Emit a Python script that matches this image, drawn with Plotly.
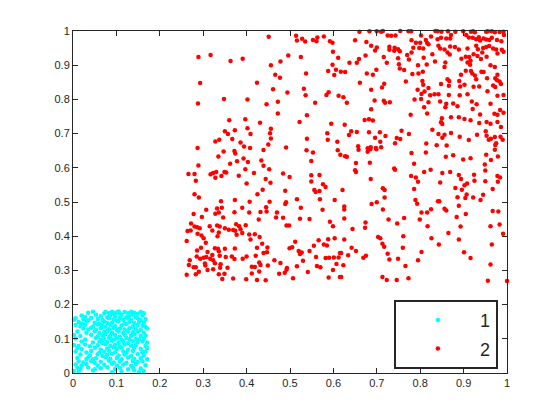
import plotly.graph_objects as go

# ---- data ----
cyan_points = [
 (0.035,0.176),(0.046,0.179),(0.072,0.174),(0.075,0.178),(0.083,0.175),(0.090,0.179),(0.094,0.173),(0.100,0.177),(0.105,0.180),(0.108,0.174),(0.119,0.178),(0.127,0.175),(0.134,0.179),(0.141,0.176),(0.149,0.173),(0.156,0.178),(0.163,0.175),
 (0.020,0.168),(0.028,0.164),(0.053,0.170),(0.064,0.166),(0.079,0.163),(0.086,0.169),(0.097,0.165),(0.112,0.170),(0.123,0.164),(0.130,0.167),(0.138,0.171),(0.145,0.163),(0.160,0.168),
 (0.002,0.156),(0.006,0.160),(0.024,0.157),(0.035,0.154),(0.042,0.161),(0.057,0.158),(0.068,0.155),(0.083,0.160),(0.094,0.157),(0.101,0.153),(0.108,0.161),(0.116,0.156),(0.127,0.159),(0.134,0.154),(0.149,0.160),(0.156,0.155),(0.167,0.158),
 (0.013,0.149),(0.020,0.145),(0.031,0.151),(0.050,0.147),(0.061,0.144),(0.072,0.150),(0.079,0.146),(0.090,0.148),(0.105,0.152),(0.119,0.145),(0.130,0.149),(0.141,0.146),(0.152,0.150),(0.163,0.147),
 (0.006,0.140),(0.017,0.137),(0.028,0.141),(0.046,0.136),(0.057,0.142),(0.068,0.138),(0.075,0.135),(0.086,0.141),(0.097,0.137),(0.112,0.139),(0.123,0.143),(0.138,0.136),(0.149,0.140),(0.160,0.138),(0.167,0.135),
 (0.024,0.130),(0.035,0.127),(0.042,0.132),(0.053,0.126),(0.064,0.131),(0.083,0.128),(0.094,0.132),(0.101,0.126),(0.108,0.130),(0.119,0.127),(0.130,0.131),(0.145,0.129),(0.156,0.126),(0.171,0.130),
 (0.010,0.121),(0.031,0.118),(0.050,0.122),(0.061,0.117),(0.072,0.120),(0.079,0.123),(0.090,0.118),(0.105,0.121),(0.116,0.117),(0.127,0.122),(0.138,0.119),(0.149,0.121),(0.163,0.118),
 (0.002,0.111),(0.017,0.108),(0.042,0.112),(0.057,0.107),(0.068,0.110),(0.075,0.113),(0.086,0.108),(0.097,0.111),(0.108,0.106),(0.119,0.112),(0.134,0.109),(0.141,0.113),(0.156,0.108),(0.167,0.110),
 (0.006,0.101),(0.028,0.098),(0.053,0.102),(0.064,0.097),(0.072,0.100),(0.083,0.103),(0.094,0.098),(0.101,0.101),(0.112,0.097),(0.123,0.102),(0.130,0.099),(0.145,0.101),(0.152,0.097),(0.163,0.100),
 (0.020,0.092),(0.046,0.089),(0.061,0.093),(0.068,0.088),(0.079,0.091),(0.090,0.094),(0.105,0.089),(0.116,0.092),(0.127,0.088),(0.138,0.093),(0.149,0.090),(0.160,0.092),(0.171,0.089),
 (0.002,0.082),(0.013,0.079),(0.028,0.083),(0.039,0.078),(0.057,0.081),(0.075,0.084),(0.086,0.079),(0.097,0.082),(0.108,0.078),(0.119,0.083),(0.134,0.080),(0.145,0.082),(0.167,0.079),
 (0.010,0.073),(0.020,0.070),(0.050,0.074),(0.064,0.069),(0.079,0.072),(0.094,0.075),(0.101,0.070),(0.112,0.073),(0.127,0.069),(0.141,0.074),(0.156,0.071),(0.171,0.073),
 (0.006,0.063),(0.031,0.060),(0.042,0.064),(0.061,0.059),(0.072,0.062),(0.083,0.065),(0.097,0.060),(0.116,0.063),(0.123,0.059),(0.138,0.064),(0.160,0.061),(0.167,0.063),
 (0.017,0.054),(0.039,0.051),(0.057,0.055),(0.068,0.050),(0.079,0.053),(0.090,0.056),(0.105,0.051),(0.119,0.054),(0.134,0.050),(0.149,0.055),(0.163,0.052),
 (0.010,0.044),(0.031,0.041),(0.035,0.045),(0.046,0.040),(0.053,0.043),(0.075,0.046),(0.086,0.041),(0.101,0.044),(0.112,0.040),(0.127,0.045),(0.141,0.042),(0.156,0.044),(0.171,0.041),
 (0.013,0.034),(0.024,0.031),(0.042,0.035),(0.050,0.030),(0.064,0.033),(0.083,0.036),(0.094,0.031),(0.108,0.034),(0.123,0.030),(0.138,0.035),(0.149,0.032),(0.160,0.034),
 (0.006,0.025),(0.020,0.022),(0.031,0.026),(0.057,0.021),(0.072,0.024),(0.090,0.027),(0.101,0.022),(0.116,0.025),(0.134,0.021),(0.145,0.026),(0.167,0.023),
 (0.010,0.015),(0.017,0.012),(0.035,0.016),(0.050,0.011),(0.064,0.014),(0.079,0.017),(0.097,0.012),(0.108,0.015),(0.127,0.011),(0.138,0.016),(0.156,0.013),
 (0.002,0.006),(0.013,0.003),(0.046,0.007),(0.090,0.002),(0.112,0.005),(0.141,0.008),(0.152,0.003),(0.163,0.006),
]

red_points = [
 (0.451,0.983),(0.514,0.986),(0.516,0.972),(0.528,0.977),(0.535,0.969),(0.553,0.974),(0.561,0.970),(0.563,0.981),(0.578,0.984),(0.592,0.970),(0.598,0.966),
 (0.289,0.924),(0.317,0.930),(0.363,0.912),(0.391,0.919),(0.496,0.928),(0.525,0.924),(0.599,0.939),(0.611,0.922),(0.456,0.900),(0.478,0.911),(0.598,0.901),
 (0.588,0.883),(0.606,0.887),(0.617,0.881),(0.537,0.876),(0.466,0.872),(0.477,0.863),(0.602,0.871),(0.293,0.848),(0.424,0.849),(0.461,0.830),(0.494,0.820),
 (0.532,0.831),(0.536,0.812),(0.584,0.813),(0.589,0.821),(0.612,0.811),(0.288,0.788),(0.348,0.801),(0.402,0.800),(0.446,0.786),(0.472,0.793),(0.558,0.790),
 (0.472,0.759),(0.539,0.754),(0.360,0.739),(0.397,0.742),(0.431,0.732),(0.522,0.734),(0.595,0.729),(0.350,0.707),(0.357,0.699),(0.373,0.710),(0.402,0.716),
 (0.409,0.699),(0.456,0.714),(0.454,0.701),(0.456,0.686),(0.586,0.701),(0.328,0.677),(0.337,0.682),(0.367,0.684),(0.386,0.674),(0.450,0.668),(0.539,0.685),
 (0.587,0.682),(0.609,0.676),(0.287,0.658),(0.394,0.662),(0.408,0.658),(0.491,0.659),
 (0.660,0.998),(0.683,0.999),(0.700,0.999),(0.710,0.998),(0.714,1.000),(0.754,1.000),(0.773,0.999),(0.779,0.999),(0.835,1.000),(0.840,0.999),(0.849,0.998),
 (0.864,0.999),(0.881,0.998),(0.899,0.999),(0.917,0.998),(0.922,0.999),(0.926,0.996),(0.952,0.998),(0.956,0.999),(0.965,0.999),(0.972,0.996),(0.983,0.997),(0.992,0.998),
 (0.725,0.987),(0.733,0.986),(0.743,0.987),(0.802,0.987),(0.813,0.974),(0.825,0.984),(0.840,0.976),(0.848,0.980),(0.860,0.978),(0.869,0.978),(0.871,0.988),
 (0.906,0.988),(0.912,0.981),(0.921,0.980),(0.929,0.976),(0.935,0.982),(0.938,0.972),(0.946,0.978),(0.952,0.975),(0.959,0.974),(0.965,0.980),(0.977,0.974),
 (0.987,0.970),(0.993,0.988),(0.650,0.973),(0.676,0.968),(0.780,0.973),(0.790,0.966),(0.800,0.966),(0.816,0.965),(0.687,0.957),(0.700,0.952),(0.729,0.954),
 (0.741,0.951),(0.749,0.947),(0.729,0.945),(0.740,0.942),(0.753,0.941),(0.784,0.951),(0.798,0.950),(0.807,0.949),(0.819,0.961),(0.842,0.957),(0.846,0.949),
 (0.856,0.946),(0.869,0.955),(0.880,0.953),(0.889,0.946),(0.909,0.949),(0.929,0.957),(0.933,0.947),(0.945,0.950),(0.952,0.953),(0.959,0.956),(0.968,0.949),
 (0.975,0.946),(0.988,0.945),(0.992,0.939),(0.696,0.943),(0.770,0.930),(0.780,0.937),(0.828,0.932),(0.863,0.937),(0.868,0.931),(0.905,0.925),(0.913,0.924),
 (0.923,0.932),(0.932,0.927),(0.943,0.937),(0.978,0.934),(0.674,0.928),(0.659,0.918),(0.654,0.907),(0.637,0.907),(0.716,0.924),(0.749,0.920),(0.774,0.917),
 (0.808,0.922),(0.834,0.911),(0.858,0.908),(0.895,0.919),(0.909,0.908),(0.916,0.913),(0.940,0.918),(0.953,0.925),(0.723,0.907),(0.751,0.903),(0.753,0.890),
 (0.763,0.886),(0.795,0.900),(0.815,0.902),(0.856,0.895),(0.699,0.887),(0.677,0.876),(0.691,0.872),(0.627,0.880),(0.806,0.881),(0.796,0.876),(0.782,0.874),
 (0.905,0.884),(0.917,0.883),(0.920,0.876),(0.926,0.870),(0.941,0.881),(0.946,0.880),(0.962,0.900),(0.972,0.895),(0.915,0.901),(0.894,0.872),(0.863,0.859),
 (0.867,0.854),(0.866,0.840),(0.890,0.854),(0.892,0.838),(0.902,0.843),(0.805,0.854),(0.807,0.843),(0.819,0.833),(0.848,0.845),(0.929,0.859),(0.954,0.862),
 (0.973,0.862),(0.978,0.872),(0.977,0.856),(0.983,0.852),(0.968,0.841),(0.973,0.836),(0.986,0.845),(0.923,0.837),(0.936,0.838),(0.955,0.824),(0.717,0.846),
 (0.712,0.835),(0.661,0.849),(0.687,0.828),(0.767,0.852),(0.794,0.828),(0.810,0.823),(0.803,0.816),(0.823,0.812),(0.833,0.815),(0.842,0.815),(0.866,0.813),
 (0.891,0.812),(0.909,0.815),(0.978,0.811),(0.992,0.813),(0.623,0.806),(0.631,0.790),(0.695,0.797),(0.716,0.796),(0.719,0.790),(0.730,0.792),(0.787,0.800),
 (0.802,0.801),(0.819,0.792),(0.846,0.794),(0.860,0.787),(0.858,0.777),(0.876,0.788),(0.886,0.780),(0.919,0.794),(0.930,0.786),(0.962,0.787),(0.809,0.777),
 (0.921,0.772),(0.687,0.771),(0.816,0.759),(0.778,0.755),(0.938,0.756),(0.971,0.758),(0.978,0.755),(0.992,0.761),(0.984,0.769),(0.850,0.745),(0.848,0.733),
 (0.851,0.728),(0.871,0.748),(0.889,0.748),(0.902,0.743),(0.672,0.740),(0.682,0.742),(0.691,0.738),(0.936,0.731),(0.953,0.734),(0.962,0.729),(0.978,0.734),
 (0.986,0.719),(0.916,0.739),(0.626,0.726),(0.641,0.707),(0.654,0.705),(0.682,0.704),(0.696,0.688),(0.707,0.704),(0.708,0.676),(0.698,0.658),(0.720,0.693),
 (0.746,0.687),(0.757,0.708),(0.774,0.699),(0.828,0.711),(0.842,0.699),(0.851,0.688),(0.856,0.697),(0.871,0.702),(0.891,0.691),(0.912,0.681),(0.931,0.697),
 (0.951,0.707),(0.953,0.694),(0.958,0.682),(0.963,0.685),(0.972,0.690),(0.973,0.667),(0.975,0.672),(0.985,0.691),(0.990,0.682),(0.636,0.696),(0.679,0.657),
 (0.657,0.663),(0.686,0.660),(0.710,0.660),(0.838,0.666),(0.861,0.665),(0.814,0.671),(0.754,0.684),(0.742,0.672),
 (0.347,0.648),(0.372,0.649),(0.374,0.642),(0.439,0.652),(0.538,0.651),(0.553,0.645),(0.610,0.651),(0.616,0.638),(0.335,0.633),(0.289,0.607),(0.362,0.612),
 (0.378,0.619),(0.393,0.627),(0.403,0.617),(0.434,0.621),(0.439,0.606),(0.452,0.596),(0.549,0.620),(0.266,0.582),(0.280,0.582),(0.283,0.562),(0.317,0.581),
 (0.323,0.585),(0.330,0.588),(0.328,0.571),(0.342,0.576),(0.349,0.588),(0.353,0.586),(0.382,0.577),(0.397,0.596),(0.417,0.585),(0.444,0.567),(0.455,0.556),
 (0.484,0.583),(0.499,0.573),(0.549,0.578),(0.568,0.579),(0.549,0.560),(0.400,0.554),(0.576,0.552),(0.582,0.544),(0.556,0.535),(0.559,0.529),(0.568,0.532),
 (0.280,0.523),(0.290,0.513),(0.437,0.536),(0.425,0.523),(0.489,0.533),(0.341,0.502),(0.373,0.506),(0.407,0.501),(0.453,0.501),(0.491,0.499),(0.489,0.494),
 (0.516,0.508),(0.569,0.508),(0.603,0.506),(0.307,0.477),(0.332,0.481),(0.343,0.483),(0.390,0.483),(0.445,0.485),(0.446,0.472),(0.432,0.471),(0.470,0.469),
 (0.525,0.483),(0.575,0.477),(0.278,0.465),(0.297,0.456),(0.328,0.466),(0.336,0.469),(0.346,0.455),(0.372,0.470),(0.406,0.469),(0.468,0.455),(0.484,0.454),
 (0.523,0.451),(0.545,0.450),(0.428,0.449),(0.272,0.437),(0.264,0.415),(0.280,0.428),(0.286,0.426),(0.292,0.423),(0.271,0.417),(0.315,0.429),(0.321,0.417),
 (0.332,0.431),(0.338,0.428),(0.350,0.423),(0.359,0.419),(0.369,0.418),(0.376,0.435),(0.383,0.429),(0.374,0.416),(0.386,0.420),(0.390,0.409),(0.398,0.432),
 (0.287,0.407),(0.296,0.402),(0.301,0.394),(0.336,0.411),(0.333,0.400),(0.377,0.404),(0.406,0.405),(0.419,0.406),(0.430,0.398),(0.409,0.390),(0.492,0.431),
 (0.498,0.431),(0.592,0.442),(0.599,0.429),(0.262,0.386),(0.306,0.381),(0.295,0.366),(0.286,0.358),(0.327,0.365),(0.334,0.363),(0.310,0.354),(0.321,0.345),
 (0.336,0.356),(0.350,0.363),(0.373,0.364),(0.424,0.366),(0.436,0.378),(0.448,0.367),(0.499,0.365),(0.505,0.368),(0.512,0.384),(0.520,0.357),(0.523,0.348),
 (0.527,0.352),(0.530,0.328),(0.545,0.357),(0.555,0.372),(0.566,0.388),(0.578,0.376),(0.585,0.373),(0.588,0.391),(0.603,0.394),(0.615,0.351),(0.612,0.338),
 (0.285,0.341),(0.293,0.334),(0.301,0.337),(0.307,0.339),(0.316,0.334),(0.323,0.330),(0.338,0.343),(0.352,0.339),(0.366,0.341),(0.391,0.334),(0.400,0.341),
 (0.439,0.351),(0.447,0.353),(0.421,0.343),(0.269,0.330),(0.304,0.320),(0.305,0.314),(0.327,0.321),(0.340,0.318),(0.372,0.333),(0.267,0.316),(0.278,0.309),
 (0.283,0.309),(0.290,0.296),(0.310,0.301),(0.323,0.303),(0.339,0.308),(0.356,0.308),(0.412,0.311),(0.419,0.310),(0.429,0.323),(0.432,0.316),(0.429,0.297),
 (0.449,0.314),(0.464,0.330),(0.478,0.322),(0.492,0.302),(0.493,0.307),(0.488,0.293),(0.516,0.312),(0.541,0.295),(0.560,0.339),(0.562,0.313),(0.570,0.309),
 (0.582,0.336),(0.590,0.337),(0.601,0.338),(0.607,0.319),(0.599,0.301),(0.262,0.287),(0.283,0.289),(0.336,0.289),(0.349,0.290),(0.369,0.276),(0.344,0.275),
 (0.399,0.274),(0.412,0.291),(0.424,0.272),(0.444,0.271),(0.475,0.290),(0.507,0.277),(0.589,0.279),(0.615,0.281),
 (0.627,0.634),(0.631,0.632),(0.658,0.653),(0.679,0.647),(0.685,0.654),(0.699,0.654),(0.780,0.643),(0.813,0.645),(0.859,0.632),(0.876,0.637),(0.899,0.624),
 (0.916,0.628),(0.952,0.638),(0.963,0.623),(0.972,0.653),(0.979,0.633),(0.652,0.614),(0.650,0.593),(0.652,0.588),(0.684,0.615),(0.740,0.598),(0.742,0.594),
 (0.786,0.612),(0.779,0.576),(0.790,0.572),(0.795,0.559),(0.809,0.588),(0.824,0.594),(0.851,0.585),(0.846,0.557),(0.869,0.588),(0.889,0.579),(0.894,0.567),
 (0.924,0.580),(0.925,0.562),(0.949,0.610),(0.950,0.592),(0.950,0.561),(0.978,0.576),(0.984,0.572),(0.979,0.559),(0.621,0.535),(0.686,0.567),(0.714,0.540),
 (0.718,0.535),(0.718,0.513),(0.786,0.538),(0.789,0.506),(0.793,0.495),(0.841,0.502),(0.844,0.502),(0.881,0.541),(0.886,0.514),(0.896,0.536),(0.902,0.549),
 (0.908,0.554),(0.904,0.512),(0.907,0.522),(0.922,0.513),(0.939,0.506),(0.945,0.521),(0.967,0.538),(0.625,0.487),(0.625,0.478),(0.688,0.494),(0.700,0.499),
 (0.714,0.478),(0.803,0.469),(0.816,0.469),(0.825,0.479),(0.856,0.480),(0.860,0.475),(0.889,0.489),(0.905,0.465),(0.967,0.474),(0.980,0.472),(0.625,0.452),
 (0.674,0.440),(0.673,0.425),(0.644,0.421),(0.727,0.449),(0.763,0.453),(0.747,0.437),(0.799,0.449),(0.817,0.429),(0.884,0.456),(0.893,0.428),(0.962,0.429),
 (0.983,0.434),(0.991,0.407),(0.625,0.390),(0.703,0.398),(0.708,0.394),(0.761,0.400),(0.826,0.394),(0.865,0.409),(0.889,0.390),(0.642,0.366),(0.652,0.357),
 (0.634,0.344),(0.669,0.337),(0.675,0.343),(0.713,0.378),(0.717,0.369),(0.760,0.366),(0.725,0.349),(0.729,0.332),(0.749,0.334),(0.843,0.376),(0.803,0.354),
 (0.795,0.330),(0.965,0.376),(0.901,0.353),(0.916,0.336),(0.962,0.317),(0.766,0.313),(0.623,0.315),(0.713,0.281),(0.723,0.272),(0.746,0.272),(0.773,0.277),
 (0.956,0.270),(1.000,0.269),(0.618,0.351),(0.618,0.281),
]

series_names = ["1", "2"]
series_colors = ["#00FFFF", "#FF0000"]
tick_values = [0, 0.1, 0.2, 0.3, 0.4, 0.5, 0.6, 0.7, 0.8, 0.9, 1]
tick_labels = ["0", "0.1", "0.2", "0.3", "0.4", "0.5", "0.6", "0.7", "0.8", "0.9", "1"]

fig = go.Figure()
for name, color, pts in zip(series_names, series_colors, [cyan_points, red_points]):
    fig.add_trace(go.Scatter(
        x=[p[0] for p in pts], y=[p[1] for p in pts],
        mode="markers", name=name, legendgroup=name,
        marker=dict(color=color, size=4.5, line=dict(width=0)),
        cliponaxis=False,
    ))

axis_common = dict(
    range=[0, 1], tickvals=tick_values, ticktext=tick_labels,
    showgrid=False, zeroline=False, showline=True, linecolor="#262626", linewidth=1,
    mirror="ticks", ticks="inside", ticklen=5, tickcolor="#262626",
    tickfont=dict(family="Liberation Sans, Arial, sans-serif", size=11, color="#262626"),
    fixedrange=True,
)
fig.update_xaxes(**axis_common)
fig.update_yaxes(**axis_common)

fig.update_layout(
    width=560, height=420,
    margin=dict(l=65, r=61, t=23, b=55, autoexpand=False),
    paper_bgcolor="white", plot_bgcolor="white",
    showlegend=True,
    legend=dict(
        x=0.979, y=0.012, xanchor="right", yanchor="bottom",
        bgcolor="white", bordercolor="#262626", borderwidth=2,
        font=dict(family="Liberation Sans, Arial, sans-serif", size=18, color="#262626"),
        itemwidth=74, tracegroupgap=2, traceorder="grouped",
    ),
)

fig.write_html("out.html")
